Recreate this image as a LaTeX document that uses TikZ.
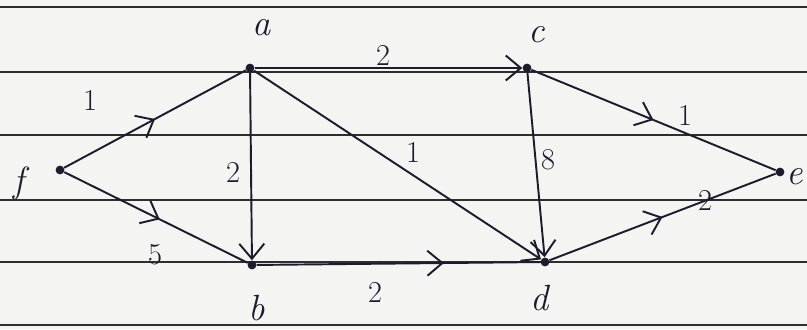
\documentclass[tikz,border=0pt]{standalone}
\usepackage{tikz}
\usetikzlibrary{arrows.meta, positioning, calc, decorations.markings}
\definecolor{paper}{HTML}{F4F4F2}
\definecolor{ruleink}{HTML}{2E2E2E}
\definecolor{penink}{HTML}{1C1C2C}

\tikzset{
  vert/.style={circle, fill=penink, inner sep=0pt, minimum size=5pt},
  vname/.style={font=\huge\itshape, text=penink},
  wt/.style={font=\LARGE, text=penink},
  edge/.style={penink, line width=1.1pt},
  tipend/.style={edge, -{Straight Barb[length=3mm, width=5mm]}},
  midtip/.style={edge, postaction={decorate}, decoration={markings,
    mark=at position #1 with {\arrow{Straight Barb[length=3mm, width=5mm]}}}},
  midtip/.default=0.5
}

\begin{document}
\begin{tikzpicture}
    \fill[paper] (0,0) rectangle (16.14,6.58);
    \useasboundingbox (0,0) rectangle (16.14,6.58);
    % ruled lines of the page
    \foreach \y in {6.44,5.14,3.88,2.58,1.34,0.08}{%
      \draw[ruleink, line width=1.2pt] (0,\y) -- (16.14,\y);}
    % vertices
    \node[vert] (f) at (1.2,3.18) {};
    \node[vert] (a) at (5.0,5.22) {};
    \node[vert] (b) at (5.04,1.28) {};
    \node[vert] (c) at (10.54,5.22) {};
    \node[vert] (d) at (10.9,1.34) {};
    \node[vert] (e) at (15.6,3.14) {};
    \node[vname] (na) at (5.24,6.02) {a};
    \node[vname] (nc) at (10.74,5.88) {c};
    \node[vname] (nf) at (0.38,2.92) {f};
    \node[vname] (nb) at (5.14,0.42) {b};
    \node[vname] (nd) at (10.8,0.62) {d};
    \node[vname] (ne) at (15.9,3.04) {e};
    % edges
    \draw[midtip=0.5] (f) -- (a);
    \draw[midtip=0.52] (f) -- (b);
    \draw[tipend] (a) -- (b);
    \draw[tipend] (a) -- (c);
    \draw[tipend] (a) -- (d);
    \draw[tipend] (c) -- (d);
    \draw[midtip=0.66] (b) -- (d);
    \draw[midtip=0.5] (c) -- (e);
    \draw[midtip=0.5] (d) -- (e);
    % weights
    \node[wt] (wfa) at (1.8,4.58) {1};
    \node[wt] (wfb) at (3.1,1.48) {5};
    \node[wt] (wab) at (4.66,3.14) {2};
    \node[wt] (wac) at (7.66,5.48) {2};
    \node[wt] (wad) at (8.26,3.54) {1};
    \node[wt] (wcd) at (10.96,3.38) {8};
    \node[wt] (wce) at (13.7,4.28) {1};
    \node[wt] (wde) at (14.1,2.58) {2};
    \node[wt] (wbd) at (7.5,0.74) {2};
\end{tikzpicture}
\end{document}
